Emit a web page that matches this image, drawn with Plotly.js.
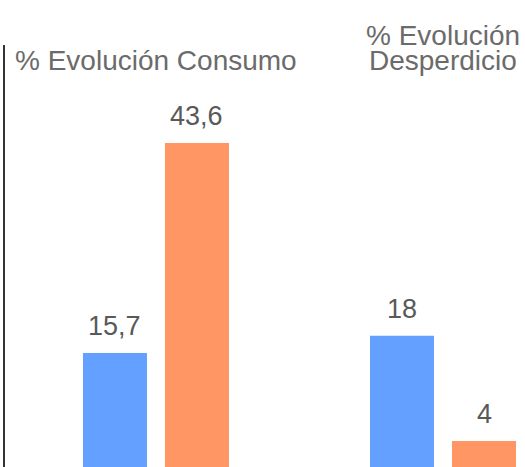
<!DOCTYPE html>
<html>
<head>
<meta charset="utf-8">
<script src="https://cdn.plot.ly/plotly-3.0.1.min.js"></script>
<style>
  html, body { margin: 0; padding: 0; background: #ffffff; overflow: hidden; width: 525px; height: 467px; }
  #chart { width: 525px; height: 467px; display: block; overflow: hidden; }
</style>
</head>
<body>
<div id="chart"></div>
<script>
// ---- data ----
const categories = ['% Evolución Consumo', '% Evolución<br>Desperdicio'];
const seriesNames = ['Serie 1', 'Serie 2'];
const seriesBlue = [15.7, 18];
const seriesOrange = [43.6, 4];

// ---- styles ----
const colors = ['#64A0FF', '#FF9664'];
const fontFamily = 'Liberation Sans, Arial, Helvetica, sans-serif';
const fmt = v => String(v).replace('.', ',');

const allSeries = [seriesBlue, seriesOrange];

const traces = allSeries.map((vals, i) => ({
  type: 'bar',
  name: seriesNames[i],
  x: categories,
  y: vals,
  marker: { color: colors[i] },
  hoverinfo: 'none'
}));

// value labels above bars (annotations in data coordinates)
const barOffset = 41; // half of a bar slot, px
const annotations = [];
allSeries.forEach((vals, i) => {
  vals.forEach((v, j) => {
    annotations.push({
      x: categories[j], y: v, xref: 'x', yref: 'y',
      text: fmt(v), showarrow: false,
      xanchor: 'center', yanchor: 'bottom',
      xshift: (i === 0 ? -barOffset : barOffset), yshift: 10,
      font: { family: fontFamily, size: 27, color: '#595959' }
    });
  });
});

// category labels at the top, tight line spacing
categories.forEach((c) => {
  const lines = c.split('<br>');
  lines.forEach((ln, k) => {
    annotations.push({
      x: c, y: 0.922, xref: 'x', yref: 'paper',
      text: ln, showarrow: false,
      xanchor: 'center', yanchor: 'bottom',
      yshift: (lines.length - 1 - k) * 25,
      font: { family: fontFamily, size: 28, color: '#6b6b6b' }
    });
  });
});

const layout = {
  width: 525, height: 467,
  autosize: false,
  margin: { l: 5, r: 0, t: 45, b: 0, pad: 0, autoexpand: false },
  paper_bgcolor: '#ffffff', plot_bgcolor: '#ffffff',
  showlegend: false,
  barmode: 'group',
  bargap: 0.4286,
  bargroupgap: 0.2195,
  font: { family: fontFamily },
  xaxis: {
    type: 'category',
    range: [-0.526, 1.2857],
    showticklabels: false, showgrid: false, zeroline: false, showline: false,
    ticks: '', fixedrange: true, automargin: false
  },
  yaxis: {
    range: [0.558, 56.62],
    showticklabels: false, showgrid: false, zeroline: false,
    showline: true, linecolor: '#333333', linewidth: 2,
    ticks: '', fixedrange: true, automargin: false
  },
  annotations: annotations
};

Plotly.newPlot('chart', traces, layout, { displayModeBar: false, staticPlot: true });
</script>
</body>
</html>
